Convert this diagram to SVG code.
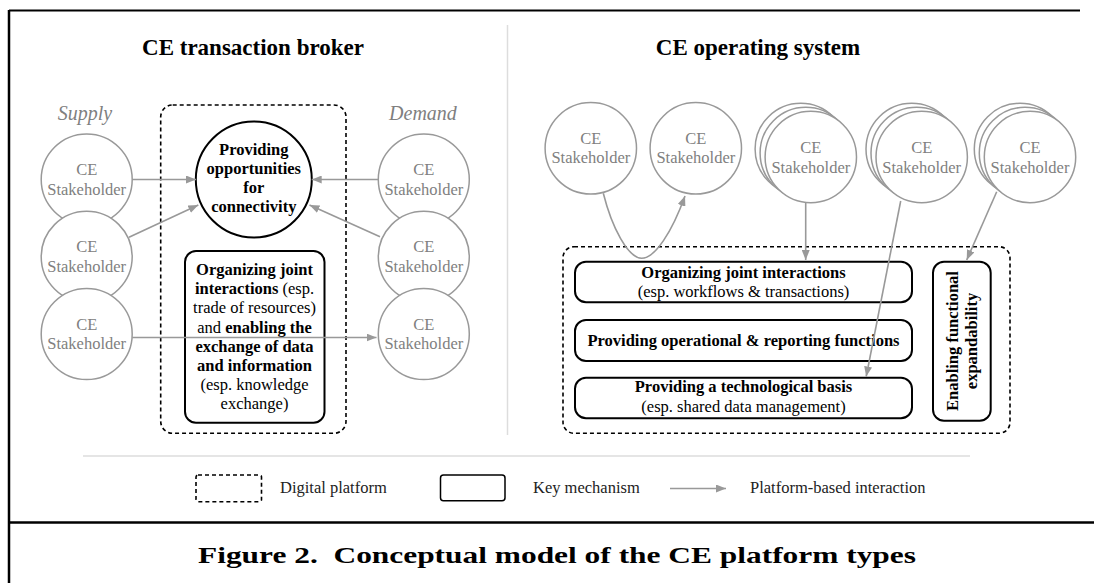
<svg xmlns="http://www.w3.org/2000/svg" width="1094" height="583" viewBox="0 0 1094 583">
<style>
  text { font-family: "Liberation Serif", "Times New Roman", serif; }
  .title { font-size: 23px; font-weight: bold; fill: #000; text-anchor: middle; }
  .side { font-size: 20px; font-style: italic; fill: #7f7f7f; text-anchor: middle; }
  .sh { fill: #fff; stroke: #999; stroke-width: 1.5; }
  .shtext { font-size: 16.5px; fill: #808080; text-anchor: middle; }
  .mech { fill: #fff; stroke: #000; stroke-width: 2; }
  .mt { font-size: 16.5px; fill: #000; text-anchor: middle; }
  .b { font-weight: bold; }
  .plat { fill: none; stroke: #000; stroke-width: 1.6; stroke-dasharray: 4 3; }
  .conn { fill: none; stroke: #999; stroke-width: 1.6; marker-end: url(#ah); }
  .leg { font-size: 16.5px; fill: #222; }
</style>
<defs>
  <marker id="ah" markerUnits="userSpaceOnUse" markerWidth="10" markerHeight="8" refX="10" refY="4" orient="auto">
    <path d="M0,0 L10,4 L0,8 z" fill="#999"/>
  </marker>
</defs>
<rect width="1094" height="583" fill="#fff"/>

<!-- frame -->
<g id="frame" stroke="#000" fill="none">
  <line x1="9" y1="10.5" x2="1080" y2="10.5" stroke-width="2"/>
  <line x1="9" y1="10" x2="9" y2="583" stroke-width="2.5"/>
  <line x1="8" y1="522.5" x2="1094" y2="522.5" stroke-width="2.5"/>
  <line x1="507.5" y1="25" x2="507.5" y2="435" stroke="#ddd" stroke-width="1.5"/>
  <line x1="83" y1="456" x2="970" y2="456" stroke="#ddd" stroke-width="1.5"/>
</g>

<!-- headings -->
<text class="title" x="253" y="55">CE transaction broker</text>
<text class="title" x="758" y="55">CE operating system</text>
<text class="side" x="85" y="120">Supply</text>
<text class="side" x="423" y="120">Demand</text>

<!-- left: platform -->
<g id="platform-broker">
  <rect class="plat" x="160.7" y="105" width="185.3" height="328.3" rx="12"/>
</g>
<g id="connectivity">
  <circle cx="253.8" cy="179.5" r="58" fill="#fff" stroke="#000" stroke-width="2"/>
  <text class="mt b" x="253.8" y="155">Providing</text>
  <text class="mt b" x="253.8" y="174">opportunities</text>
  <text class="mt b" x="253.8" y="193">for</text>
  <text class="mt b" x="253.8" y="212">connectivity</text>
</g>
<g id="organizing-broker">
  <rect class="mech" x="185" y="251" width="139.5" height="171.7" rx="11"/>
  <text class="mt" x="254.5" y="275"><tspan class="b">Organizing joint</tspan></text>
  <text class="mt" x="254.5" y="294.2"><tspan class="b">interactions</tspan> (esp.</text>
  <text class="mt" x="254.5" y="313.4">trade of resources)</text>
  <text class="mt" x="254.5" y="332.6">and <tspan class="b">enabling the</tspan></text>
  <text class="mt b" x="254.5" y="351.8">exchange of data</text>
  <text class="mt b" x="254.5" y="371">and information</text>
  <text class="mt" x="254.5" y="390.2">(esp. knowledge</text>
  <text class="mt" x="254.5" y="409.4">exchange)</text>
</g>

<!-- supply stakeholders -->
<g id="supply1">
  <circle class="sh" cx="86.7" cy="179.5" r="45.5"/>
  <text class="shtext" x="86.7" y="175">CE</text>
  <text class="shtext" x="86.7" y="194.5">Stakeholder</text>
</g>
<g id="supply2">
  <circle class="sh" cx="86.7" cy="256.8" r="45.5"/>
  <text class="shtext" x="86.7" y="252.3">CE</text>
  <text class="shtext" x="86.7" y="271.8">Stakeholder</text>
</g>
<g id="supply3">
  <circle class="sh" cx="86.7" cy="334" r="45.5"/>
  <text class="shtext" x="86.7" y="329.5">CE</text>
  <text class="shtext" x="86.7" y="349">Stakeholder</text>
</g>
<!-- demand stakeholders -->
<g id="demand1">
  <circle class="sh" cx="423.8" cy="179.5" r="45.5"/>
  <text class="shtext" x="423.8" y="175">CE</text>
  <text class="shtext" x="423.8" y="194.5">Stakeholder</text>
</g>
<g id="demand2">
  <circle class="sh" cx="423.8" cy="256.8" r="45.5"/>
  <text class="shtext" x="423.8" y="252.3">CE</text>
  <text class="shtext" x="423.8" y="271.8">Stakeholder</text>
</g>
<g id="demand3">
  <circle class="sh" cx="423.8" cy="334" r="45.5"/>
  <text class="shtext" x="423.8" y="329.5">CE</text>
  <text class="shtext" x="423.8" y="349">Stakeholder</text>
</g>

<!-- right: platform -->
<g id="platform-os">
  <rect class="plat" x="563" y="246.7" width="447" height="186.6" rx="11"/>
</g>
<g id="organizing-os">
  <rect class="mech" x="575" y="261.7" width="337" height="40.6" rx="11"/>
  <text class="mt b" x="743.5" y="277.5">Organizing joint interactions</text>
  <text class="mt" x="743.5" y="296.7">(esp. workflows &amp; transactions)</text>
</g>
<g id="operational">
  <rect class="mech" x="575" y="320" width="337" height="41" rx="11"/>
  <text class="mt b" x="743.5" y="346">Providing operational &amp; reporting functions</text>
</g>
<g id="technological">
  <rect class="mech" x="575" y="377.7" width="337" height="40.6" rx="11"/>
  <text class="mt b" x="743.5" y="392">Providing a technological basis</text>
  <text class="mt" x="743.5" y="411.7">(esp. shared data management)</text>
</g>
<g id="expandability">
  <rect class="mech" x="933" y="261.7" width="57.7" height="159" rx="11"/>
  <g transform="translate(957.7,341) rotate(-90)">
    <text class="mt b" x="0" y="0">Enabling functional</text>
    <text class="mt b" x="0" y="19">expandability</text>
  </g>
</g>

<!-- right stakeholders -->
<g id="os1">
  <circle class="sh" cx="590.8" cy="148.3" r="45.7"/>
  <text class="shtext" x="590.8" y="143.5">CE</text>
  <text class="shtext" x="590.8" y="163">Stakeholder</text>
</g>
<g id="os2">
  <circle class="sh" cx="695.8" cy="148.3" r="45.7"/>
  <text class="shtext" x="695.8" y="143.5">CE</text>
  <text class="shtext" x="695.8" y="163">Stakeholder</text>
</g>
<g id="os3">
  <circle class="sh" cx="800.8" cy="149" r="45.7"/>
  <circle class="sh" cx="805.8" cy="153" r="45.7"/>
  <circle class="sh" cx="810.8" cy="157" r="45.7"/>
  <text class="shtext" x="810.8" y="153">CE</text>
  <text class="shtext" x="810.8" y="172.5">Stakeholder</text>
</g>
<g id="os4">
  <circle class="sh" cx="911.7" cy="149" r="45.7"/>
  <circle class="sh" cx="916.7" cy="153" r="45.7"/>
  <circle class="sh" cx="921.7" cy="157" r="45.7"/>
  <text class="shtext" x="921.7" y="153">CE</text>
  <text class="shtext" x="921.7" y="172.5">Stakeholder</text>
</g>
<g id="os5">
  <circle class="sh" cx="1020" cy="149" r="45.7"/>
  <circle class="sh" cx="1025" cy="153" r="45.7"/>
  <circle class="sh" cx="1030" cy="157" r="45.7"/>
  <text class="shtext" x="1030" y="153">CE</text>
  <text class="shtext" x="1030" y="172.5">Stakeholder</text>
</g>

<!-- connectors -->
<g id="connectors">
  <line class="conn" x1="132.2" y1="179.5" x2="196" y2="179.5"/>
  <line class="conn" x1="129" y1="237.3" x2="198.3" y2="205"/>
  <line class="conn" x1="378.3" y1="179.5" x2="311.7" y2="179.5"/>
  <line class="conn" x1="380" y1="236.7" x2="309.5" y2="205"/>
  <line class="conn" x1="132.2" y1="337.5" x2="376.5" y2="337.5"/>
  <path class="conn" d="M603.3,193.3 C612,228 628,258 641.7,258.3 C655,258.3 672,232 685,196"/>
  <line class="conn" x1="805.7" y1="203" x2="805.7" y2="260"/>
  <line class="conn" x1="900.7" y1="201" x2="866.2" y2="376.5"/>
  <line class="conn" x1="996.7" y1="191.7" x2="966.7" y2="260"/>
</g>

<!-- legend -->
<g id="legend">
  <rect class="plat" x="196" y="475" width="65.5" height="26.7" rx="2"/>
  <text class="leg" x="280" y="493">Digital platform</text>
  <rect x="440.5" y="475" width="64.5" height="25.7" rx="3" fill="#fff" stroke="#000" stroke-width="1.5"/>
  <text class="leg" x="533" y="493">Key mechanism</text>
  <line class="conn" x1="670" y1="488.5" x2="726" y2="488.5"/>
  <text class="leg" x="750" y="493">Platform-based interaction</text>
</g>

<text x="557" y="563" font-size="24" font-weight="bold" fill="#000" text-anchor="middle" textLength="718" lengthAdjust="spacingAndGlyphs" xml:space="preserve">Figure 2.  Conceptual model of the CE platform types</text>
</svg>
